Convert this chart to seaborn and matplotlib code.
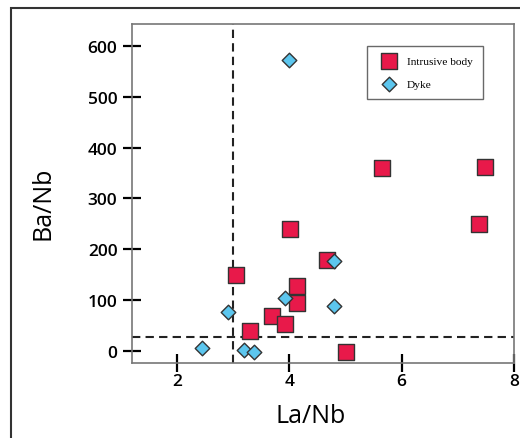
import numpy as np
import pandas as pd
import matplotlib
matplotlib.use("Agg")
import matplotlib.pyplot as plt
import matplotlib.patches as mpatches
import seaborn as sns

# Data
intrusive_la_nb = [4.01, 7.37, 4.67, 3.06, 4.14, 4.14, 3.70, 3.92, 3.30, 5.01, 5.65, 7.49]
intrusive_ba_nb = [240, 250, 178, 150, 127, 94, 68, 52, 39, -2, 360, 362]
dyke_la_nb = [4.00, 4.80, 3.92, 2.90, 4.80, 2.45, 3.20, 3.37]
dyke_ba_nb = [573, 176, 104, 77, 88, 5, 1, -2]
series_names = ["Intrusive body", "Dyke"]
x_ticks = [2, 4, 6, 8]
y_ticks = [0, 100, 200, 300, 400, 500, 600]
x_threshold = 3.0
y_threshold = 28

df = pd.DataFrame({
    "La/Nb": intrusive_la_nb + dyke_la_nb,
    "Ba/Nb": intrusive_ba_nb + dyke_ba_nb,
    "Type": [series_names[0]] * len(intrusive_la_nb) + [series_names[1]] * len(dyke_la_nb),
})

sns.set_style("white")
plt.rcParams["font.family"] = ["Open Sans", "DejaVu Sans"]
plt.rcParams["text.color"] = "black"
plt.rcParams["axes.labelcolor"] = "black"
plt.rcParams["xtick.color"] = "black"
plt.rcParams["ytick.color"] = "black"

fig = plt.figure(figsize=(5.2, 4.39), dpi=100)
ax = fig.add_axes([132/520, 1 - 364/439, (514-132)/520, (364-25)/439])

ax.axvline(x_threshold, color="#222222", lw=1.5, ls=(0, (4, 2.5)), zorder=1)
ax.axhline(y_threshold, color="#222222", lw=1.5, ls=(0, (4, 2.5)), zorder=1)

palette = {series_names[0]: "#E8194A", series_names[1]: "#5CC6EE"}
markers = {series_names[0]: "s", series_names[1]: "D"}
sizes = {series_names[0]: 125, series_names[1]: 55}

for name in series_names:
    sub = df[df["Type"] == name]
    sns.scatterplot(data=sub, x="La/Nb", y="Ba/Nb", ax=ax, color=palette[name],
                    marker=markers[name], s=sizes[name], edgecolor="#333333",
                    linewidth=1.0, label=name, zorder=3)

ax.set_xlim(1.2, 8.0)
ax.set_ylim(-24, 643)
ax.set_xticks(x_ticks)
ax.set_yticks(y_ticks)
ax.tick_params(axis="both", direction="inout", length=13, width=1.6, color="black",
               labelsize=12.5, bottom=True, left=True, labelcolor="black")
ax.tick_params(axis="x", pad=1)
ax.tick_params(axis="y", pad=4)
for lab in ax.get_xticklabels() + ax.get_yticklabels():
    lab.set_fontweight("semibold")
for sp in ax.spines.values():
    sp.set_color("#777777")
    sp.set_linewidth(1.2)

ax.set_xlabel("La/Nb", fontsize=18, color="black")
ax.set_ylabel("Ba/Nb", fontsize=18, color="black")
ax.xaxis.set_label_coords(0.467, -0.118)
ax.yaxis.set_label_coords(-0.2, 0.475)

leg = ax.legend(loc="upper right", bbox_to_anchor=(0.919, 0.935), frameon=True,
                prop={"family": "Liberation Serif", "size": 8.2}, fancybox=False,
                borderpad=0.9, labelspacing=1.1, handletextpad=0.6, borderaxespad=0,
                markerscale=1.0)
leg.get_frame().set_edgecolor("#444444")
leg.get_frame().set_linewidth(1.0)
for t in leg.get_texts():
    t.set_color("black")

frame = mpatches.Rectangle((11/520, -0.2), 1.2, (1 - 9/439) + 0.2,
                           transform=fig.transFigure, fill=False,
                           edgecolor="#333333", lw=1.5, clip_on=False)
fig.patches.append(frame)

fig.savefig("out.png", dpi=100)
